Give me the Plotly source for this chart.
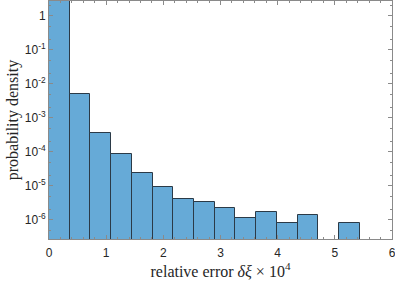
import numpy as np
import plotly.graph_objects as go

# Histogram data (probability density), 15 equal bins from 0 to ~5.44
bin_width = 0.3624
n_bins = 15
density = [2.76, 5.0e-3, 3.7e-4, 8.6e-5, 2.36e-5, 9.5e-6, 4.1e-6, 3.3e-6,
           2.2e-6, 1.12e-6, 1.73e-6, 8.3e-7, 1.38e-6, None, 8.3e-7]

centers = [(i + 0.5) * bin_width for i in range(n_bins)]

ytick_vals = [1e-6, 1e-5, 1e-4, 1e-3, 1e-2, 1e-1, 1]
ytick_text = ["10<sup>-6</sup>", "10<sup>-5</sup>", "10<sup>-4</sup>", "10<sup>-3</sup>",
              "10<sup>-2</sup>", "10<sup>-1</sup>", "1"]
xtick_vals = [0, 1, 2, 3, 4, 5, 6]

fig = go.Figure()
fig.add_trace(go.Bar(
    x=centers, y=density, width=[bin_width] * n_bins,
    marker=dict(color="#66AAD7", line=dict(color="#2b3a47", width=1)),
    showlegend=False,
))

axis_col = "#8a8a8a"
fig.update_layout(
    width=395, height=281,
    margin=dict(l=49, r=3, t=1, b=42),
    plot_bgcolor="white", paper_bgcolor="white",
    font=dict(family="Liberation Sans, Arial", size=12, color="#262626"),
    bargap=0,
)
fig.update_xaxes(
    range=[0, 6], tickvals=xtick_vals, ticks="inside", ticklen=4,
    tickcolor=axis_col, showline=True, linecolor=axis_col, linewidth=1,
    mirror="ticks", showgrid=False, zeroline=False, automargin=False,
    minor=dict(dtick=0.2, ticks="inside", ticklen=2, tickcolor=axis_col),
    title=dict(text="relative error <i>δξ</i> × 10<sup>4</sup>",
               font=dict(family="Liberation Serif, Times New Roman", size=16, color="#262626"),
               standoff=2),
    tickfont=dict(size=12),
    ticklabelstandoff=3,
    ticklabeloverflow="allow",
)
fig.update_yaxes(
    type="log", range=[-6.56, 0.44], tickvals=ytick_vals, ticktext=ytick_text,
    ticks="inside", ticklen=4, tickcolor=axis_col,
    showline=True, linecolor=axis_col, linewidth=1, mirror="ticks",
    showgrid=False, zeroline=False, automargin=False,
    minor=dict(ticks="inside", ticklen=2, tickcolor=axis_col, showgrid=False),
    title=dict(text="probability density",
               font=dict(family="Liberation Serif, Times New Roman", size=16, color="#262626"),
               standoff=2),
    tickfont=dict(size=12),
    ticklabeloverflow="allow",
)

fig.write_html("out.html", config={"displayModeBar": False},
               post_script="document.body.style.margin='0';")
